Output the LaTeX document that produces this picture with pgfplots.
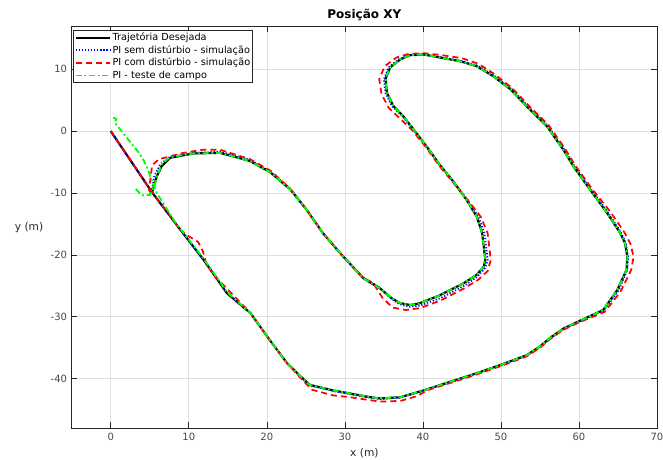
\documentclass[border=0pt]{standalone}
\usepackage{fontspec}
\setmainfont{DejaVu Sans}
\usepackage{pgfplots}
\pgfplotsset{compat=1.18}
\usetikzlibrary{calc}
\definecolor{axInk}{HTML}{262626}
\definecolor{gridGray}{HTML}{E0E0E0}
\definecolor{fieldGreen}{HTML}{00FF00}
\definecolor{simBlue}{HTML}{0000FF}
\definecolor{simRed}{HTML}{FF0000}

\begin{document}
\begin{tikzpicture}
\begin{axis}[
  name=ax,
  scale only axis,
  width=438.75pt,
  height=301.5pt,
  xmin=-5, xmax=70,
  ymin=-48, ymax=17,
  xtick={0,10,...,70},
  ytick={-40,-30,...,10},
  grid=major,
  major grid style={draw=gridGray, line width=0.5pt},
  axis line style={draw=axInk, line width=0.5pt},
  tick style={draw=axInk, line width=0.5pt},
  tick label style={font=\fontsize{7.5}{9}\selectfont, text=axInk!85},
  /pgf/number format/assume math mode=true,
  title={\textbf{Posição XY}},
  title style={font=\fontsize{9}{11}\selectfont, at={(axis description cs:0.5,1)}, anchor=center, yshift=2.5pt},
  xlabel={x (m)},
  xlabel style={font=\fontsize{8}{10}\selectfont, text=axInk, at={(axis description cs:0.5,0)}, anchor=center, yshift=-18.5pt},
  ylabel={y (m)},
  ylabel style={font=\fontsize{8}{10}\selectfont, text=axInk, rotate=-90, at={(axis description cs:0,0.5)}, anchor=center, xshift=-32pt},
  legend style={at={(axis description cs:0,1)}, anchor=north west, xshift=1pt, yshift=-3pt,
    font=\fontsize{7.3}{8.6}\selectfont, draw=axInk, fill=white, inner sep=1pt,
    row sep=0.6pt, nodes={inner sep=0.8pt}},
  legend cell align=left,
  legend image code/.code={\draw[#1] (0pt,0pt) -- (26pt,0pt);},
]
% desired trajectory
\addplot[draw=black, line width=1.6pt] coordinates {
(0,0) (5.3,-9.9) (8.9,-15.9) (11.9,-20.8) (14.9,-26.2) (17.9,-29.4) (20.4,-33.8) (22.6,-37.5)
(24.3,-39.6) (25.5,-41.0) (28.5,-41.9) (30.7,-42.4) (32.8,-42.9) (34.5,-43.2) (37.1,-43.0)
(40.1,-41.9) (43.5,-40.5) (46.7,-39.2) (49.9,-37.8) (53.3,-36.2) (55.0,-34.8) (56.3,-33.4)
(58.0,-31.9) (60.2,-30.6) (63.1,-28.9) (64.9,-25.7) (66.1,-22.4) (66.2,-20.3) (65.9,-18.1)
(65.3,-16.5) (63.6,-13.2) (61.4,-9.4) (59.3,-5.7) (58.0,-3.0) (55.9,0.8) (53.7,3.5) (51.2,6.8)
(49.0,8.9) (46.9,10.5) (44.8,11.3) (42.2,11.9) (40.1,12.4) (38.4,12.3) (37.1,11.6) (35.8,10.3)
(35.2,8.4) (35.4,6.2) (36.2,4.1) (37.5,2.4) (38.8,0.3) (40.5,-2.5) (42.2,-5.5) (44.0,-8.3)
(45.6,-11.1) (46.9,-13.8) (47.6,-16.5) (48.0,-20.8) (47.8,-21.9) (46.9,-23.2) (45.2,-24.6)
(42.2,-26.5) (39.6,-27.8) (38.4,-28.1) (37.1,-27.8) (36.0,-27.0) (34.5,-25.4) (32.4,-23.8)
(29.6,-20.0) (27.2,-16.5) (25.1,-12.7) (23.0,-9.4) (20.4,-6.6) (17.8,-4.8) (14.0,-3.5)
(10.6,-3.6) (7.6,-4.3) (6.5,-5.7) (5.9,-7.3) (5.3,-9.9)
};
\addlegendentry{Trajetória Desejada}
% PI without disturbance, simulation
\addplot[draw=simBlue, line width=1.3pt, dash pattern=on 0.9pt off 1.4pt] coordinates {
(0,0) (5.3,-9.9) (8.9,-15.9) (11.9,-20.8) (14.9,-26.2) (17.9,-29.4) (20.4,-33.8) (22.6,-37.5)
(24.3,-39.7) (25.5,-41.1) (28.5,-42.0) (30.7,-42.5) (32.8,-43.0) (34.5,-43.3) (37.1,-43.1)
(40.1,-41.9) (43.5,-40.6) (46.7,-39.3) (49.9,-37.9) (53.3,-36.3) (55.0,-34.9) (56.3,-33.5)
(58.0,-32.0) (60.2,-30.7) (63.2,-29.0) (65.1,-25.7) (66.2,-22.4) (66.3,-20.3) (66.0,-18.1)
(65.4,-16.4) (63.7,-13.1) (61.5,-9.3) (59.4,-5.6) (58.1,-2.9) (56.0,0.9) (53.8,3.6) (51.3,6.9)
(49.1,9.0) (47.0,10.6) (44.8,11.4) (42.2,12.0) (40.1,12.4) (38.3,12.3) (36.9,11.6) (35.6,10.3)
(35.0,8.4) (35.2,6.2) (36.0,4.1) (37.4,2.4) (38.7,0.3) (40.4,-2.5) (42.2,-5.5) (44.0,-8.3)
(45.7,-11.1) (47.1,-13.8) (47.9,-16.5) (48.3,-20.8) (48.0,-22.1) (47.0,-23.5) (45.3,-25.0)
(42.2,-27.0) (39.6,-28.2) (38.2,-28.4) (36.9,-27.9) (35.8,-26.9) (34.4,-25.2) (32.3,-23.6)
(29.6,-20.0) (27.2,-16.5) (25.1,-12.7) (23.0,-9.3) (20.4,-6.5) (17.8,-4.6) (14.0,-3.3)
(10.6,-3.5) (7.6,-4.1) (6.3,-5.4) (5.6,-7.2) (5.2,-9.9)
};
\addlegendentry{PI sem distúrbio - simulação}
% PI with disturbance, simulation
\addplot[draw=simRed, line width=1.3pt, dash pattern=on 4.5pt off 3pt] coordinates {
(0,0) (5.3,-9.9) (8.9,-15.9) (10.0,-17.0) (11.2,-17.9) (11.8,-19.4) (12.3,-21.6) (13.3,-23.4)
(15.0,-25.6) (17.9,-29.4) (20.4,-33.8) (22.6,-37.5) (24.4,-40.0) (25.8,-41.8) (28.5,-42.7)
(30.7,-43.0) (32.8,-43.4) (34.5,-43.7) (37.1,-43.6) (39.3,-42.8) (40.5,-41.9) (43.5,-40.7)
(46.7,-39.4) (49.9,-38.0) (53.3,-36.4) (55.0,-35.0) (56.3,-33.6) (58.0,-32.1) (60.2,-30.8)
(63.3,-29.2) (65.3,-26.0) (66.7,-22.4) (67.0,-20.3) (66.6,-18.2) (65.8,-16.3) (64.0,-13.0)
(61.6,-9.2) (59.5,-5.5) (58.2,-2.8) (56.1,1.0) (53.9,3.7) (51.4,7.0) (49.2,9.2) (47.1,10.9)
(45.0,11.8) (42.4,12.3) (40.2,12.6) (38.2,12.5) (36.6,11.9) (35.1,10.5) (34.4,8.4) (34.7,6.0)
(35.6,3.8) (37.1,2.0) (38.6,0.2) (40.4,-2.6) (42.1,-5.6) (44.0,-8.5) (45.8,-11.2) (47.4,-13.8)
(48.3,-16.5) (48.7,-20.8) (48.3,-22.6) (47.1,-24.0) (45.3,-25.4) (42.2,-27.4) (39.6,-28.6)
(37.8,-28.9) (36.1,-28.5) (34.8,-26.9) (33.6,-24.5) (32.2,-23.6) (29.6,-20.0) (27.2,-16.5)
(25.1,-12.7) (23.0,-9.3) (20.5,-6.4) (17.8,-4.5) (14.0,-3.0) (11.8,-3.0) (9.3,-3.5) (7.2,-4.2)
(6.2,-4.5) (5.3,-5.5) (5.1,-7.5) (4.9,-9.5) (5.2,-10.3)
};
\addlegendentry{PI com distúrbio - simulação}
% PI field test
\addplot[draw=fieldGreen, line width=1.4pt, dash pattern=on 4.5pt off 2pt on 1.5pt off 2pt] coordinates {
(0.3,2.2) (0.7,2.0) (0.5,1.4) (1.2,0.3) (2.2,-1.3) (3.3,-3.0) (4.0,-4.2) (4.6,-5.7) (5.2,-7.8)
(5.9,-10.0) (7.0,-12.2) (8.3,-14.8) (9.8,-17.2) (11.9,-20.6) (14.9,-26.0) (17.9,-29.4)
(20.4,-33.8) (22.6,-37.5) (24.3,-39.6) (25.5,-41.0) (28.5,-41.9) (30.7,-42.4) (32.8,-42.9)
(34.5,-43.2) (37.1,-43.0) (40.1,-41.9) (43.5,-40.5) (46.7,-39.2) (49.9,-37.8) (53.3,-36.2)
(55.0,-34.8) (56.3,-33.4) (58.0,-31.9) (60.2,-30.6) (63.1,-28.9) (64.9,-25.7) (66.1,-22.4)
(66.2,-20.3) (65.9,-18.1) (65.3,-16.5) (63.6,-13.2) (61.4,-9.4) (59.3,-5.7) (58.0,-3.0)
(55.9,0.8) (53.7,3.5) (51.2,6.8) (49.0,8.9) (46.9,10.5) (44.8,11.3) (42.2,11.9) (40.1,12.4)
(38.4,12.3) (37.1,11.6) (35.8,10.3) (35.2,8.4) (35.4,6.2) (36.2,4.1) (37.5,2.4) (38.8,0.3)
(40.5,-2.5) (42.2,-5.5) (44.0,-8.3) (45.6,-11.1) (46.9,-13.8) (47.6,-16.5) (48.0,-20.8)
(47.8,-21.9) (46.9,-23.2) (45.2,-24.6) (42.2,-26.5) (39.6,-27.8) (38.4,-28.1) (37.1,-27.8)
(36.0,-27.0) (34.5,-25.4) (32.4,-23.8) (29.6,-20.0) (27.2,-16.5) (25.1,-12.7) (23.0,-9.4)
(20.4,-6.6) (17.8,-4.8) (14.0,-3.5) (10.6,-3.6) (7.6,-4.2) (6.6,-5.2) (6.0,-7.0) (5.6,-8.8)
(5.0,-10.3) (4.2,-10.4) (3.7,-10.0) (3.1,-9.2)
};
\addlegendentry{PI - teste de campo}
\end{axis}
\pgfresetboundingbox
\path ($(ax.south west)+(-53.8pt,-23.25pt)$) rectangle ($(ax.north east)+(4.5pt,19.5pt)$);
\end{tikzpicture}
\end{document}
